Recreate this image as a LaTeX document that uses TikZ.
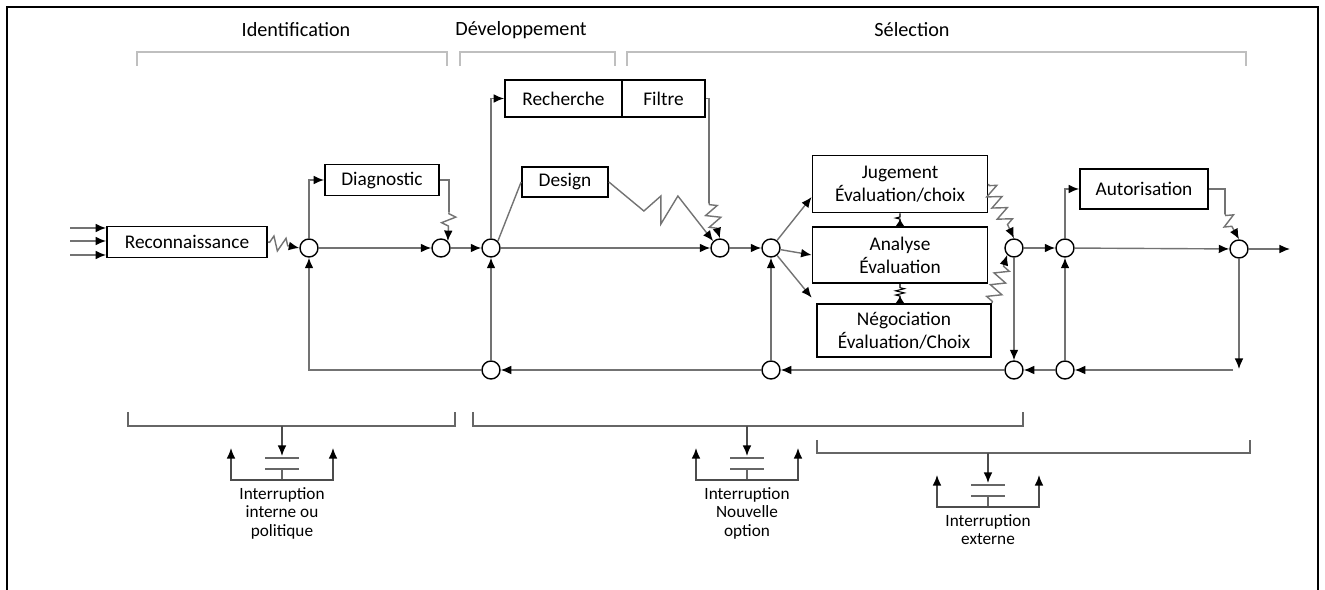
\documentclass[tikz,border=0pt]{standalone}
\usepackage{fontspec}
\setmainfont{Carlito}
\usetikzlibrary{arrows.meta,decorations.pathmorphing}

\begin{document}
\begin{tikzpicture}[x=0.2mm, y=-0.2mm,
    box/.style={draw=black, fill=white, line width=1pt, align=center,
      font=\fontsize{11}{13}\selectfont, inner sep=1pt},
    hub/.style={circle, draw=black, fill=white, line width=0.8pt,
      minimum size=3.6mm, inner sep=0pt},
    flow/.style={draw=black!55, line width=0.8pt,
      -{Latex[length=6pt, width=5pt, color=black]}},
    link/.style={draw=black!55, line width=0.8pt},
    zz/.style={flow, decorate, decoration={zigzag, segment length=7pt,
      amplitude=4pt, pre length=1pt, post length=6pt}},
    mini/.style={draw=black, line width=0.6pt, decorate,
      decoration={zigzag, segment length=2.4pt, amplitude=2.5pt,
      pre length=4pt, post length=1pt},
      {Latex[length=4pt, width=5pt, reversed]}-},
    phase/.style={font=\fontsize{11.5}{13}\selectfont},
    bracket/.style={draw=black!25, line width=0.9pt},
    span/.style={draw=black!60, line width=0.9pt},
    stop/.style={draw=black!70, line width=0.9pt,
      -{Latex[length=6pt, width=5pt, color=black]}},
    both/.style={draw=black!70, line width=0.9pt,
      {Latex[length=6pt, width=5pt, color=black]}-{Latex[length=6pt, width=5pt, color=black]}},
    plate/.style={draw=black!60, line width=0.9pt},
    note/.style={font=\fontsize{9.8}{10.5}\selectfont, align=center,
      anchor=north, inner sep=0pt},
  ]
  \useasboundingbox (0,0) rectangle (1325,590);

  % frame
  \draw[line width=1.3pt] (7,590) -- (7,7) -- (1318,7) -- (1318,590);

  % phases
  \node[phase] (idf) at (296,30) {Identification};
  \node[phase] (dev) at (521,30) {Développement};
  \node[phase] (sel) at (912,30) {Sélection};
  \draw[bracket] (137,66) |- (447,52) -- (447,66);
  \draw[bracket] (460,66) |- (615,52) -- (615,66);
  \draw[bracket] (627,66) |- (1246,52) -- (1246,66);

  % routines
  \node[box, minimum width=32mm, minimum height=6.2mm] (recon) at (187,242) {Reconnaissance};
  \node[box, minimum width=22.8mm, minimum height=6.2mm] (diag) at (382,180) {Diagnostic};
  \node[box, minimum width=23.4mm, minimum height=7.4mm] (rech) at (563.5,98.5) {Recherche};
  \node[box, minimum width=16.6mm, minimum height=7.4mm] (filt) at (663.5,98.5) {Filtre};
  \node[box, minimum width=17.2mm, minimum height=6mm] (design) at (565,182) {Design};
  \node[box, minimum width=35mm, minimum height=11.4mm] (jug) at (900,184) {Jugement\\Évaluation/choix};
  \node[box, minimum width=35mm, minimum height=11.2mm] (ana) at (900,255) {Analyse\\Évaluation};
  \node[box, minimum width=34.8mm, minimum height=10.6mm] (nego) at (904,330.5) {Négociation\\Évaluation/Choix};
  \node[box, minimum width=25.6mm, minimum height=8mm] (auto) at (1144,189) {Autorisation};

  % hubs
  \node[hub] (c1) at (309,248) {};
  \node[hub] (c2) at (441,248) {};
  \node[hub] (c3) at (491,248) {};
  \node[hub] (c4) at (720,248) {};
  \node[hub] (c5) at (771,248) {};
  \node[hub] (c6) at (1014,248) {};
  \node[hub] (c7) at (1065,248) {};
  \node[hub] (c8) at (1239,249) {};
  \node[hub] (b1) at (491,370) {};
  \node[hub] (b2) at (771,370) {};
  \node[hub] (b3) at (1014,370) {};
  \node[hub] (b4) at (1065,370) {};

  \coordinate (dz) at (449,212);
  \coordinate (fz) at (709,203);
  \coordinate (az) at (1225,214);
  \coordinate (out) at (1290,249);
  \coordinate (rd) at (1239,369);
  \coordinate (rb) at (1233,370);

  % inputs
  \foreach \y [count=\i] in {228,241,255}
    \coordinate (in\i) at (70,\y);
  \foreach \i in {1,2,3}
    \draw[flow] (in\i) -- (in\i -| recon.west);

  % identification
  \draw[zz] (recon.east) -- (c1.west);
  \draw[flow] (c1) -- (c2);
  \draw[flow] (c1.north) |- (diag.west);
  \draw[link] (diag.east) -| (dz);
  \draw[zz] (dz) -- (c2.north east);
  \draw[flow] (c2) -- (c3);

  % developpement
  \draw[flow] (c3.north) |- (rech.west);
  \draw[link] (c3.north east) -- (design.west);
  \draw[link] (filt.east) -| (fz);
  \draw[zz] (fz) -- (c4.north);
  \draw[flow] (design.east) -- ++(35,29) -- ++(17,-15) -- ++(0,28)
    -- ++(17,-28) -- (c4.north west);
  \draw[flow] (c3) -- (c4);
  \draw[flow] (c4) -- (c5);

  % selection
  \draw[flow] (c5) -- ([yshift=-2.6mm]jug.west);
  \draw[flow] (c5) -- (ana.west);
  \draw[flow, shorten >=1.4mm] (c5) -- (nego.north west);
  \draw[mini] (ana.north) -- (jug.south);
  \draw[mini] (ana.south |- nego.north) -- (ana.south);
  \draw[zz] (jug.east) -- (c6.north);
  \draw[zz] (nego.north east) -- (c6.south west);
  \draw[flow] (c6) -- (c7);
  \draw[flow] (c7.north) |- (auto.west);
  \draw[link] (auto.east) -| (az);
  \draw[zz] (az) -- (c8.north);
  \draw[flow] (c7) -- (c8);
  \draw[flow] (c8) -- (out);

  % recycling
  \draw[flow] (c8) -- (rd);
  \draw[flow] (rb) -- (b4);
  \draw[flow] (b4) -- (c7);
  \draw[flow] (b4) -- (b3);
  \draw[flow] (c6) -- (b3);
  \draw[flow] (b3) -- (b2);
  \draw[flow] (b2) -- (c5);
  \draw[flow] (b2) -- (b1);
  \draw[flow] (b1) -- (c3);
  \draw[flow] (b1) -| (c1);

  % interruptions
  \draw[span] (128,412) |- (455,426) -- (455,412);
  \draw[span] (473,412) |- (1023,426) -- (1023,412);
  \draw[span] (817,440) |- (1250,453) -- (1250,440);
  \foreach \x/\y/\txt [count=\k] in {282/426/{Interruption\\interne ou\\politique},
      747/426/{Interruption\\Nouvelle\\option}, 988/453/{Interruption\\externe}} {
    \coordinate (t\k) at (\x,\y);
    \coordinate (p\k) at (\x,\y+30);
    \draw[stop] (t\k) -- (p\k);
    \draw[plate] (\x-17,\y+32) -- (\x+17,\y+32);
    \draw[plate] (\x-17,\y+43) -- (\x+17,\y+43);
    \draw[plate] (\x,\y+43) -- (\x,\y+54);
    \draw[both] (\x-51,\y+22) |- (\x+51,\y+54) -- (\x+51,\y+22);
    \node[note] (n\k) at (\x,\y+61) {\txt};
  }
\end{tikzpicture}
\end{document}
